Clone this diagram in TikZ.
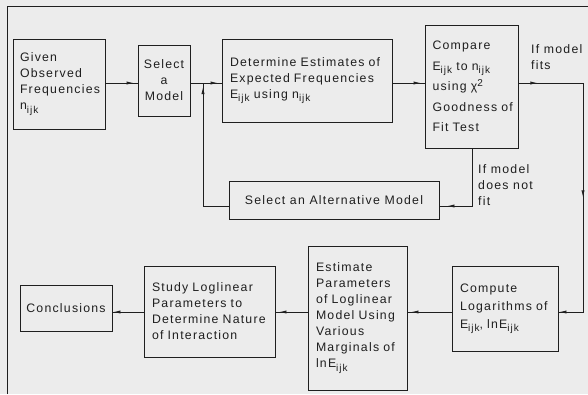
\documentclass[tikz,border=0pt]{standalone}
\usepackage{fontspec}
\setmainfont[LetterSpace=10]{Liberation Sans}
\usetikzlibrary{arrows.meta,decorations.markings}
\definecolor{bg}{gray}{0.925}
\definecolor{ink}{gray}{0.12}
\tikzset{
  box/.style={draw=ink, line width=0.8pt, fill=bg, inner ysep=2pt, font=\fontsize{12.3}{16}\selectfont, text=ink},
  lbox/.style={box, align=left, inner xsep=8pt},
  cbox/.style={box, align=center, inner xsep=2pt},
  lab/.style={font=\fontsize{12.3}{16}\selectfont, text=ink, align=left, inner sep=0pt, anchor=north west},
  conn/.style={draw=ink, line width=0.8pt, postaction={decorate},
    decoration={markings, mark=at position #1 with {\arrow{Latex[length=7pt,width=3.2pt]}}}},
  conn/.default=-4pt
}
\newcommand{\subtx}[1]{\raisebox{-3.2pt}{\fontsize{10}{10}\selectfont #1}}
\newcommand{\suptx}[1]{\raisebox{4pt}{\fontsize{10}{10}\selectfont #1}}
\begin{document}
\begin{tikzpicture}[x=1pt,y=-1pt]
\useasboundingbox[fill=bg] (0,0) rectangle (588,394);
\draw[ink, line width=0.9pt] (7,394) -- (7,6) -- (588,6);
\coordinate (r1) at (0,83);
\coordinate (r2) at (0,206);
\coordinate (r3) at (0,312);
\coordinate (rx) at (583,0);

\node[lbox, minimum width=92pt, minimum height=90pt, text width=78pt, inner xsep=7pt] (given) at (59,84)
  {Given\\Observed\\Frequencies\\n\subtx{ijk}};
\node[cbox, minimum width=52pt, minimum height=71pt] (sel) at (164,80.5) {Select\\a\\Model};
\node[lbox, minimum width=170pt, minimum height=83pt, text width=154pt] (det) at (307,80.5)
  {Determine Estimates of\\Expected Frequencies\\E\subtx{ijk} using n\subtx{ijk}};
\node[lbox, minimum width=93pt, minimum height=123pt, text width=84pt, inner xsep=4.5pt, font=\fontsize{12.3}{20.5}\selectfont] (cmp) at (471.5,86.5)
  {\hspace*{3pt}Compare\\\hspace*{3pt}E\subtx{ijk} to n\subtx{ijk}\\\hspace*{3pt}using χ\suptx{2}\\\hspace*{3pt}Goodness of\\\hspace*{3pt}Fit Test};
\node[cbox, minimum width=210pt, minimum height=38pt] (alt) at (334,200) {Select an Alternative Model};
\node[lbox, minimum width=106pt, minimum height=85pt, text width=90pt, font=\fontsize{12.3}{18}\selectfont] (comp) at (505,308.5)
  {Compute\\Logarithms of\\E\subtx{ijk}, lnE\subtx{ijk}};
\node[lbox, minimum width=99pt, minimum height=144pt, text width=83pt] (est) at (357.5,318)
  {Estimate\\Parameters\\of Loglinear\\Model Using\\Various\\Marginals of\\lnE\subtx{ijk}};
\node[lbox, minimum width=131pt, minimum height=91pt, text width=115pt] (study) at (209.5,311.5)
  {Study Loglinear\\Parameters to\\Determine Nature\\of Interaction};
\node[cbox, minimum width=92pt, minimum height=46pt] (conc) at (66,308) {Conclusions};

\node[lab] (fits) at (531,44) {If model\\fits};
\node[lab] (nofit) at (478,164) {If model\\does not\\fit};

\coordinate (up) at (203,83);
\coordinate (dn) at (472,148);
\path[conn] (given.east |- r1) -- (sel.west |- r1);
\path[conn] (sel.east |- r1) -- (det.west |- r1);
\path[conn] (det.east |- r1) -- (cmp.west |- r1);
\path[conn=-8pt] (dn) |- (alt.east |- r2);
\path[conn] (alt.west |- r2) -| (up);
\path[draw=ink, line width=0.8pt, postaction={decorate},
  decoration={markings,
    mark=at position 19pt with {\arrow{Latex[length=7pt,width=3.2pt]}},
    mark=at position 179pt with {\arrow{Latex[length=7pt,width=3.2pt]}},
    mark=at position -1pt with {\arrow{Latex[length=7pt,width=3.2pt]}}}]
  (cmp.east |- r1) -- (rx |- r1) -- (rx |- r3) -- (comp.east |- r3);
\path[conn] (comp.west |- r3) -- (est.east |- r3);
\path[conn] (est.west |- r3) -- (study.east |- r3);
\path[conn=-1pt] (study.west |- r3) -- (conc.east |- r3);
\end{tikzpicture}
\end{document}
